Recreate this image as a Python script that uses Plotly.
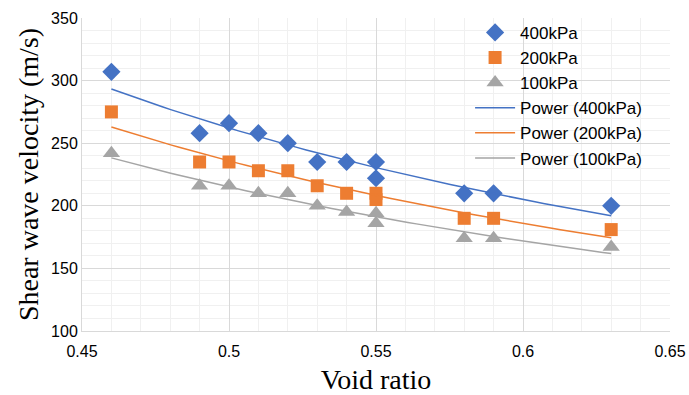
import numpy as np
import plotly.graph_objects as go

void_ratio = [0.46, 0.49, 0.50, 0.51, 0.52, 0.53, 0.54, 0.55, 0.55, 0.58, 0.59, 0.63]
vs_400 = [307, 258, 266, 258, 250, 235, 235, 235, 222, 210, 210, 200]
vs_200 = [275, 235, 235, 228, 228, 216, 210, 210, 205, 190, 190, 181]
vs_100 = [242, 216, 216, 210, 210, 200, 195, 194, 186, 174, 174, 167]

series = [
    ("400kPa", vs_400, "#4472C4", "diamond", 14),
    ("200kPa", vs_200, "#ED7D31", "square", 13),
    ("100kPa", vs_100, "#A5A5A5", "triangle-up", 15),
]

fig = go.Figure()
for name, ys, color, sym, sz in series:
    fig.add_trace(go.Scatter(x=void_ratio, y=ys, mode="markers", name=name,
                             marker=dict(symbol=sym, size=sz, color=color)))

x_arr = np.array(void_ratio)
xl = np.linspace(x_arr.min(), x_arr.max(), 60)
for name, ys, color, sym, sz in series:
    b, loga = np.polyfit(np.log(x_arr), np.log(np.array(ys)), 1)
    yl = np.exp(loga) * xl ** b
    fig.add_trace(go.Scatter(x=xl, y=yl, mode="lines", name="Power (%s)" % name,
                             line=dict(color=color, width=1.5)))

fig.update_layout(
    width=689, height=395,
    margin=dict(l=82, r=19, t=18, b=64, autoexpand=False),
    paper_bgcolor="white", plot_bgcolor="white",
    font=dict(family="Liberation Sans", size=15, color="#000000"),
    legend=dict(x=0.66, y=1.01, xanchor="left", yanchor="top",
                bgcolor="rgba(0,0,0,0)", font=dict(size=17),
                tracegroupgap=0, itemwidth=40),
    showlegend=True,
)
fig.update_xaxes(
    range=[0.45, 0.65], dtick=0.05, tick0=0.45, tickformat="~g",
    showgrid=True, gridcolor="#D9D9D9", gridwidth=1,
    minor=dict(dtick=0.01, showgrid=True, gridcolor="#F0F0F0"),
    showline=True, linecolor="#D9D9D9", zeroline=False, automargin=False,
    ticks="", tickfont=dict(size=16), ticklabelstandoff=6,
    title=dict(text="Void ratio", font=dict(family="Liberation Serif", size=28), standoff=14),
)
fig.update_yaxes(
    range=[100, 350], dtick=50,
    showgrid=True, gridcolor="#D9D9D9", gridwidth=1,
    minor=dict(dtick=10, showgrid=True, gridcolor="#F0F0F0"),
    showline=True, linecolor="#D9D9D9", zeroline=False, automargin=False,
    ticks="", tickfont=dict(size=16),
    title=dict(text="Shear wave velocity (m/s)", font=dict(family="Liberation Serif", size=28), standoff=4),
)

fig.write_html("out.html")
